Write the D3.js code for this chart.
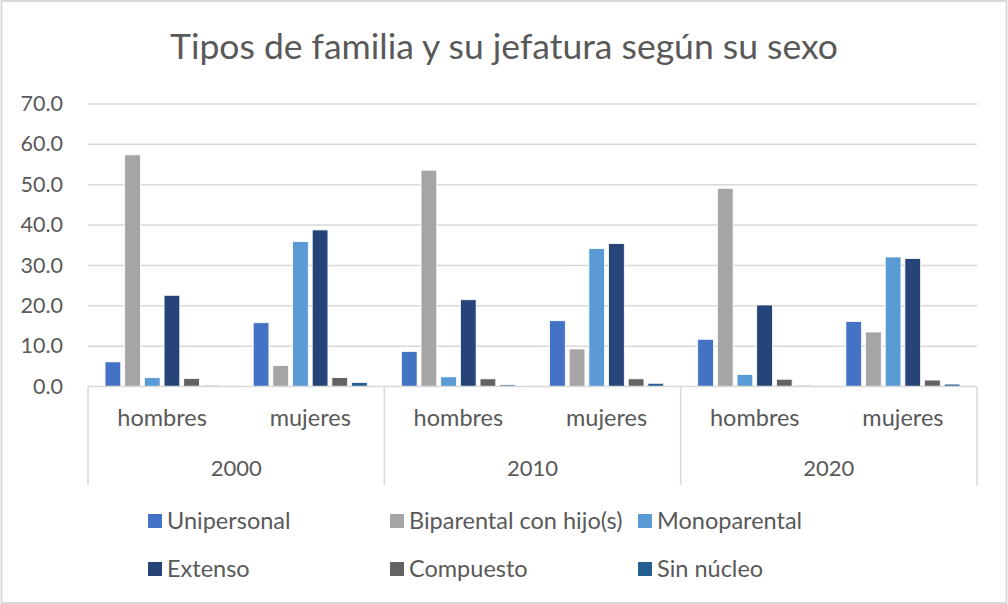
<!DOCTYPE html>
<meta charset="utf-8">
<script src="https://d3js.org/d3.v7.min.js"></script>
<style>
  html, body { margin: 0; padding: 0; background: white; }
  svg text { font-family: 'Lato', sans-serif; fill: #595959; }
</style>
<body>
<div id="chart"></div>
<script>

var years = ["2000", "2010", "2020"]
var sexes = ["hombres", "mujeres"]
var series = ["Unipersonal", "Biparental con hijo(s)", "Monoparental", "Extenso", "Compuesto", "Sin núcleo"]
var yTicks = [0, 10, 20, 30, 40, 50, 60, 70]

// one array per series, in order 2000 h, 2000 m, 2010 h, 2010 m, 2020 h, 2020 m
var unipersonal = [6.1, 15.8, 8.7, 16.3, 11.7, 16.1]
var biparental  = [57.4, 5.2, 53.6, 9.3, 49.1, 13.5]
var monoparental = [2.2, 35.9, 2.4, 34.2, 3.0, 32.1]
var extenso     = [22.6, 38.8, 21.5, 35.4, 20.2, 31.7]
var compuesto   = [2.0, 2.2, 1.9, 1.9, 1.8, 1.6]
var sinNucleo   = [0.3, 1.0, 0.4, 0.8, 0.3, 0.6]

var colors = ["#4472C4", "#A5A5A5", "#5B9BD5", "#264478", "#636363", "#255E91"]

var values = [unipersonal, biparental, monoparental, extenso, compuesto, sinNucleo]

var categories = []
years.forEach(function(y) { sexes.forEach(function(s) { categories.push(y + "|" + s) }) })

var width = 1008,
    height = 604

var margin = {left: 88, right: 31, top: 104, bottom: 218}

var svg = d3.select("#chart")
  .append("svg")
    .attr("width", width)
    .attr("height", height)

// outer border
svg.append("rect")
  .attr("x", 1.5).attr("y", 1).attr("width", width - 3).attr("height", height - 2)
  .attr("fill", "white")
  .attr("stroke", "#D9D9D9")
  .attr("stroke-width", 2)

var x0 = d3.scaleBand()
  .domain(categories)
  .range([margin.left, width - margin.right])

var x1 = d3.scaleBand()
  .domain(series)
  .range([x0.bandwidth() * 0.115, x0.bandwidth() * 0.885])
  .paddingInner(0.2)

var xYear = d3.scaleBand()
  .domain(years)
  .range([margin.left, width - margin.right])

var y = d3.scaleLinear()
  .domain([0, 70])
  .range([height - margin.bottom + 0.5, margin.top])

// gridlines
svg.append("g")
  .selectAll("line")
  .data(yTicks.slice(1))
  .enter()
  .append("line")
    .attr("x1", margin.left)
    .attr("x2", width - margin.right)
    .attr("y1", function(d) { return y(d) })
    .attr("y2", function(d) { return y(d) })
    .attr("stroke", "#D9D9D9")
    .attr("stroke-width", 1.5)

// y labels
svg.append("g")
  .selectAll("text")
  .data(yTicks)
  .enter()
  .append("text")
    .attr("x", 63)
    .attr("y", function(d) { return y(d) })
    .attr("dy", "0.33em")
    .attr("text-anchor", "end")
    .style("font-size", "21.5px")
    .text(function(d) { return d3.format(".1f")(d) })

// bars
svg.append("g")
  .selectAll("g")
  .data(categories)
  .enter()
  .append("g")
    .attr("transform", function(d) { return "translate(" + x0(d) + ",0)" })
  .selectAll("rect")
  .data(function(d, i) { return series.map(function(s, j) { return {key: s, value: values[j][i], color: colors[j]} }) })
  .enter()
  .append("rect")
    .attr("x", function(d) { return x1(d.key) })
    .attr("width", x1.bandwidth())
    .attr("y", function(d) { return y(d.value) })
    .attr("height", function(d) { return y(0) - y(d.value) })
    .attr("fill", function(d) { return d.color })
    .attr("stroke", "white")
    .attr("stroke-width", 0.8)

// category axis: baseline and separators
var axisY = y(0)
svg.append("line")
  .attr("x1", margin.left).attr("x2", width - margin.right)
  .attr("y1", axisY).attr("y2", axisY)
  .attr("stroke", "#D9D9D9").attr("stroke-width", 1.5)

var seps = years.map(function(yr) { return xYear(yr) }).concat([width - margin.right])
svg.append("g")
  .selectAll("line")
  .data(seps)
  .enter()
  .append("line")
    .attr("x1", function(d) { return d }).attr("x2", function(d) { return d })
    .attr("y1", axisY).attr("y2", 485)
    .attr("stroke", "#D9D9D9").attr("stroke-width", 1.5)

svg.append("g")
  .selectAll("text")
  .data(categories)
  .enter()
  .append("text")
    .attr("x", function(d) { return x0(d) + x0.bandwidth() / 2 })
    .attr("y", 426)
    .attr("text-anchor", "middle")
    .style("font-size", "23.5px")
    .text(function(d) { return d.split("|")[1] })

svg.append("g")
  .selectAll("text")
  .data(years)
  .enter()
  .append("text")
    .attr("x", function(d) { return xYear(d) + xYear.bandwidth() / 2 })
    .attr("y", 476)
    .attr("text-anchor", "middle")
    .style("font-size", "22px")
    .text(function(d) { return d })

// title
svg.append("text")
  .attr("x", 504)
  .attr("y", 59)
  .attr("text-anchor", "middle")
  .style("font-size", "35.5px")
  .text("Tipos de familia y su jefatura según su sexo")

// legend
var legendX = [148, 390, 638]
var legendY = [521, 569]
var legend = svg.append("g")
  .selectAll("g")
  .data(series)
  .enter()
  .append("g")
    .attr("transform", function(d, i) { return "translate(" + legendX[i % 3] + "," + legendY[Math.floor(i / 3)] + ")" })

legend.append("rect")
  .attr("x", 0).attr("y", -7)
  .attr("width", 14).attr("height", 14)
  .attr("fill", function(d, i) { return colors[i] })

legend.append("text")
  .attr("x", 19)
  .attr("y", 0)
  .attr("dy", "0.35em")
  .style("font-size", "23.5px")
  .text(function(d) { return d })

</script>
</body>
